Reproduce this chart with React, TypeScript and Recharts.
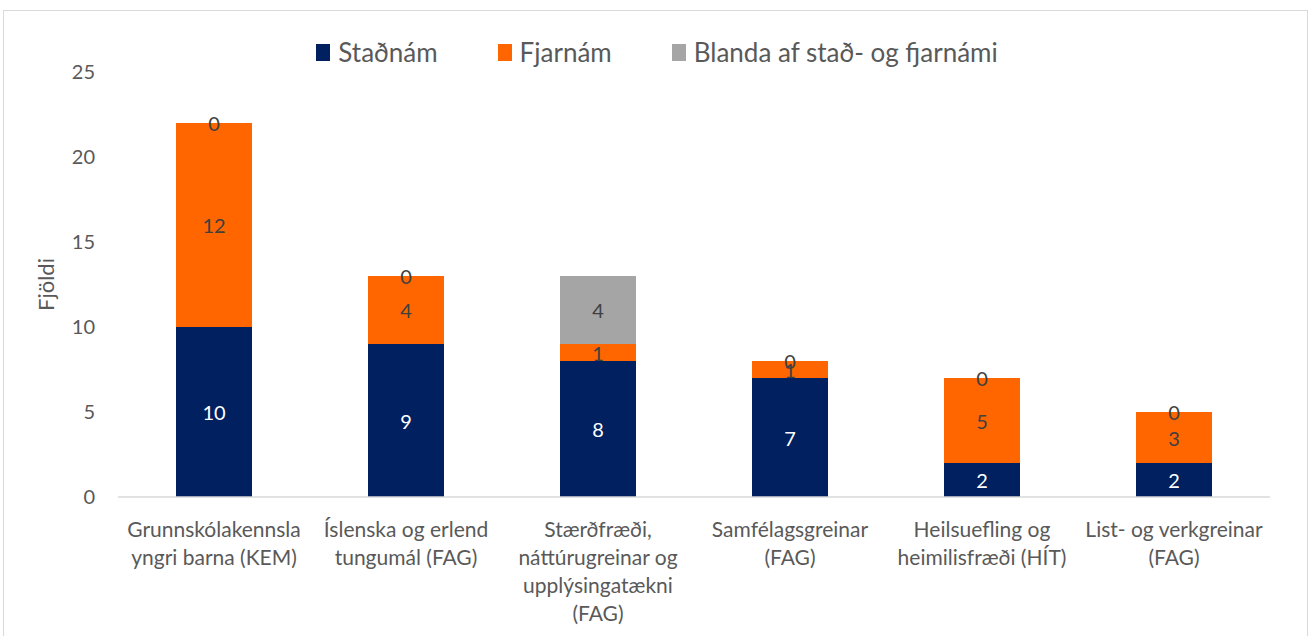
import React from "react";
import { BarChart, Bar, XAxis, YAxis, LabelList, Legend } from "recharts";

const categories = [
  "Grunnskólakennsla\nyngri barna (KEM)",
  "Íslenska og erlend\ntungumál (FAG)",
  "Stærðfræði,\nnáttúrugreinar og\nupplýsingatækni\n(FAG)",
  "Samfélagsgreinar\n(FAG)",
  "Heilsuefling og\nheimilisfræði (HÍT)",
  "List- og verkgreinar\n(FAG)",
];
const stadnam = [10, 9, 8, 7, 2, 2];
const fjarnam = [12, 4, 1, 1, 5, 3];
const blanda = [0, 0, 4, 0, 0, 0];
const yTicks = [0, 5, 10, 15, 20, 25];

const seriesNames = ["Staðnám", "Fjarnám", "Blanda af stað- og fjarnámi"];
const seriesColors = ["#002060", "#FF6600", "#A5A5A5"];

const data = categories.map((c, i) => ({
  cat: c,
  stadnam: stadnam[i],
  fjarnam: fjarnam[i],
  blanda: blanda[i],
}));

const FONT = "Lato, 'Open Sans', sans-serif";
const TEXT = "#595959";

const CatTick = (props: any) => {
  const { x, y, payload } = props;
  const lines = String(payload.value).split("\n");
  return (
    <text x={x} y={y} textAnchor="middle" fill={TEXT} fontSize={21} fontFamily={FONT}>
      {lines.map((l, i) => (
        <tspan key={i} x={x} dy={i === 0 ? 14 : 28}>
          {l}
        </tspan>
      ))}
    </text>
  );
};

const LegendContent = () => (
  <div
    style={{
      display: "flex",
      justifyContent: "center",
      alignItems: "center",
      fontFamily: FONT,
      fontSize: 26,
      color: TEXT,
      height: 32,
    }}
  >
    {seriesNames.map((n, i) => (
      <div key={n} style={{ display: "flex", alignItems: "center", marginRight: i < 2 ? 60 : 0 }}>
        <span style={{ width: 14, height: 17, background: seriesColors[i], display: "inline-block", marginRight: 8 }} />
        <span>{n}</span>
      </div>
    ))}
  </div>
);

const YLabel = (props: any) => {
  const vb = props.viewBox || { x: 58, y: 72, width: 60, height: 425 };
  const cx = 45;
  const cy = vb.y + vb.height / 2;
  return (
    <text
      x={cx}
      y={cy}
      transform={`rotate(-90, ${cx}, ${cy})`}
      textAnchor="middle"
      dominantBaseline="central"
      fill={TEXT}
      fontSize={22}
      fontFamily={FONT}
    >
      Fjöldi
    </text>
  );
};

const makeLabel = (color: string) => (props: any) => {
  const { x, y, width, height, value } = props;
  if (value === undefined || value === null) return null;
  const cx = Number(x) + Number(width) / 2;
  const cy = Number(y) + Number(height) / 2;
  return (
    <text x={cx} y={cy} textAnchor="middle" dominantBaseline="central" fill={color} fontSize={20} fontFamily={FONT}>
      {value}
    </text>
  );
};

// Zero-valued top-series labels sit at the top of the stack (rendered from the segment below)
const zeroTopLabel = (props: any) => {
  const { x, y, width, value } = props;
  if (value !== 0) return null;
  const cx = Number(x) + Number(width) / 2;
  return (
    <text x={cx} y={Number(y)} textAnchor="middle" dominantBaseline="central" fill="#404040" fontSize={20} fontFamily={FONT}>
      {value}
    </text>
  );
};

export default function App() {
  return (
    <div style={{ position: "absolute", left: 0, top: 0, width: 1314, height: 636, background: "#fff", overflow: "hidden" }}>
      <div
        style={{
          position: "absolute",
          left: 3,
          top: 10,
          width: 1305,
          height: 700,
          border: "1px solid #D9D9D9",
          boxSizing: "border-box",
        }}
      />
      <BarChart
        width={1314}
        height={636}
        data={data}
        margin={{ top: 40, right: 44, bottom: 39, left: 58 }}
        style={{ position: "absolute", left: 0, top: 0 }}
      >
        <Legend
          verticalAlign="top"
          content={LegendContent}
          wrapperStyle={{ position: "absolute", top: 36, left: 0, width: 1314, height: 32 }}
        />
        <XAxis
          dataKey="cat"
          tick={<CatTick />}
          tickLine={false}
          axisLine={{ stroke: "#D9D9D9", strokeWidth: 1.5 }}
          height={100}
          tickMargin={20}
          interval={0}
        />
        <YAxis
          width={60}
          domain={[0, 25]}
          ticks={yTicks}
          tickLine={false}
          axisLine={false}
          tickMargin={17}
          tick={{ fill: TEXT, fontSize: 20, fontFamily: FONT }}
          label={<YLabel />}
        />
        <Bar dataKey="stadnam" name={seriesNames[0]} stackId="a" fill={seriesColors[0]} barSize={76} isAnimationActive={false}>
          <LabelList dataKey="stadnam" content={makeLabel("#FFFFFF")} />
        </Bar>
        <Bar dataKey="fjarnam" name={seriesNames[1]} stackId="a" fill={seriesColors[1]} barSize={76} isAnimationActive={false}>
          <LabelList dataKey="fjarnam" content={makeLabel("#404040")} />
          <LabelList dataKey="blanda" content={zeroTopLabel} />
        </Bar>
        <Bar dataKey="blanda" name={seriesNames[2]} stackId="a" fill={seriesColors[2]} barSize={76} isAnimationActive={false}>
          <LabelList dataKey="blanda" content={makeLabel("#404040")} />
        </Bar>
      </BarChart>
    </div>
  );
}
